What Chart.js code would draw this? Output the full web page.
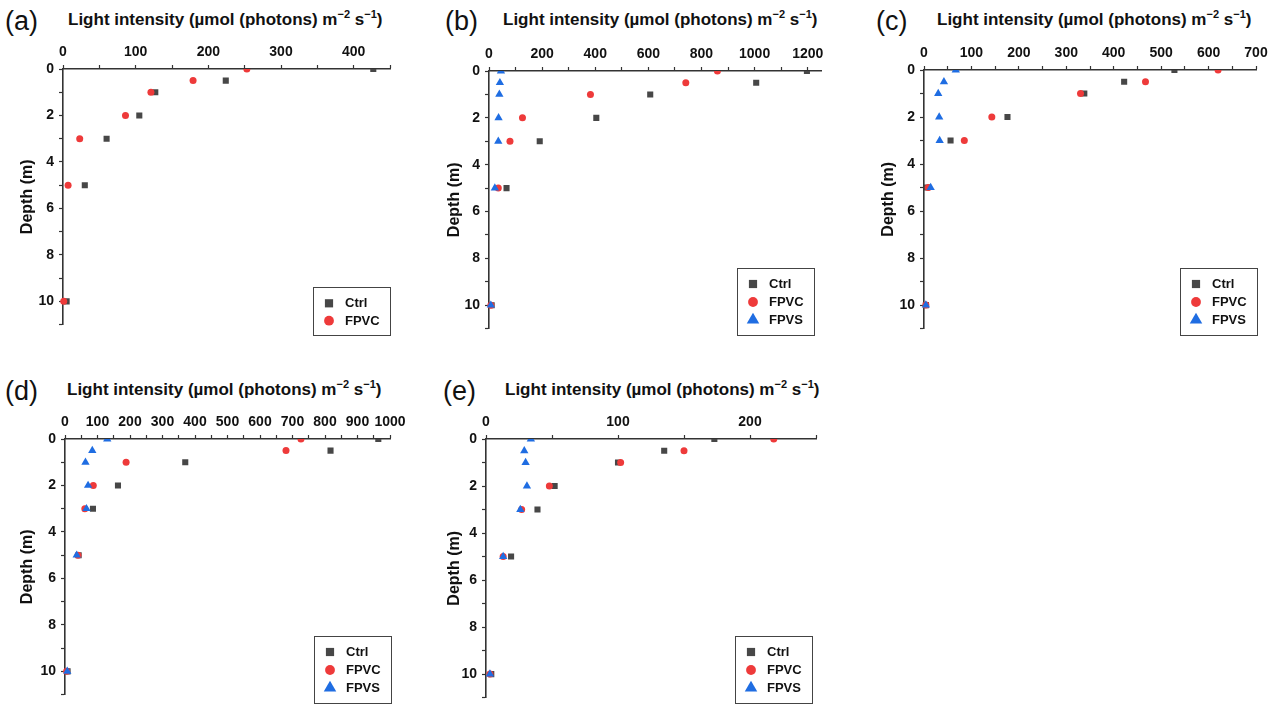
<!DOCTYPE html>
<html>
<head>
<meta charset="utf-8">
<script src="https://cdn.jsdelivr.net/npm/chart.js@4.4.1/dist/chart.umd.min.js"></script>
<style>
  body { margin: 0; background: #fff; width: 1278px; height: 705px; overflow: hidden; position: relative;
         font-family: "Liberation Sans", Arial, sans-serif; }
  canvas { position: absolute; }
  .tag { position: absolute; font-size: 27px; line-height: 30px; color: #111; }
  .ttl { position: absolute; font-size: 17px; font-weight: bold; line-height: 20px; color: #111; white-space: nowrap; }
  .ttl sup { font-size: 11px; vertical-align: 7px; line-height: 0; }
</style>
</head>
<body>
<div class="tag" style="left:5px;top:6px">(a)</div>
<div class="tag" style="left:445px;top:6px">(b)</div>
<div class="tag" style="left:876px;top:6px">(c)</div>
<div class="tag" style="left:5px;top:376px">(d)</div>
<div class="tag" style="left:443px;top:376px">(e)</div>

<div class="ttl" style="left:68px;top:10px">Light intensity (µmol (photons) m<sup>−2</sup> s<sup>−1</sup>)</div>
<div class="ttl" style="left:503px;top:10px">Light intensity (µmol (photons) m<sup>−2</sup> s<sup>−1</sup>)</div>
<div class="ttl" style="left:937px;top:10px">Light intensity (µmol (photons) m<sup>−2</sup> s<sup>−1</sup>)</div>
<div class="ttl" style="left:67px;top:380px">Light intensity (µmol (photons) m<sup>−2</sup> s<sup>−1</sup>)</div>
<div class="ttl" style="left:505px;top:380px">Light intensity (µmol (photons) m<sup>−2</sup> s<sup>−1</sup>)</div>

<canvas id="chartA"></canvas>
<canvas id="chartB"></canvas>
<canvas id="chartC"></canvas>
<canvas id="chartD"></canvas>
<canvas id="chartE"></canvas>

<script>
// Sampling depths (m), same for every panel
var depths = [0, 0.5, 1, 2, 3, 5, 10];

// Light intensity values
var ctrlA = [427, 224, 127, 105, 60, 30, 5];
var fpvcA = [253, 179, 121, 86, 23, 7, 1];

var ctrlB = [1197, 1006, 607, 404, 191, 66, 10];
var fpvcB = [860, 741, 382, 126, 79, 35, 7];
var fpvsB = [45, 41, 39, 36, 35, 22, 7];

var ctrlC = [528, 422, 338, 176, 56, 6, 4];
var fpvcC = [620, 467, 330, 143, 85, 9, 4];
var fpvsC = [67, 42, 30, 32, 33, 14, 4];

var ctrlD = [964, 817, 370, 163, 86, 42, 8];
var fpvcD = [726, 680, 188, 87, 61, 40, 5];
var fpvsD = [130, 84, 63, 71, 66, 36, 7];

var ctrlE = [173, 135, 100, 52, 39, 19, 4];
var fpvcE = [218, 150, 102, 48, 27, 13, 3];
var fpvsE = [34, 29, 30, 31, 26, 13, 3];

// Tick labels
var depthLabels = [0, 2, 4, 6, 8, 10];
var xLabelsA = [0, 100, 200, 300, 400];
var xLabelsB = [0, 200, 400, 600, 800, 1000, 1200];
var xLabelsC = [0, 100, 200, 300, 400, 500, 600, 700];
var xLabelsD = [0, 100, 200, 300, 400, 500, 600, 700, 800, 900, 1000];
var xLabelsE = [0, 100, 200];

var seriesNames = ['Ctrl', 'FPVC', 'FPVS'];
var seriesColors = ['#474747', '#ee3a3a', '#1f6de2'];
var seriesShapes = ['rect', 'circle', 'triangle'];
var seriesRadius = [4.3, 3.5, 4.8];
var legendRadius = [5.8, 4.9, 7.2];

var FONT = '"Liberation Sans", Arial, sans-serif';

// legend drawn inside the plot, boxed, bottom right
var boxLegend = {
    id: 'boxLegend',
    afterDatasetsDraw: function(chart) {
        var o = chart.options.plugins.boxLegend;
        var ctx = chart.ctx;
        var sets = chart.data.datasets;
        var w = 77, h = sets.length === 2 ? 48 : 67;
        var x0 = o.left, y0 = o.top;
        var rows = sets.length === 2 ? [16.3, 33.7] : [16, 34, 52];
        ctx.save();
        ctx.fillStyle = '#fff';
        ctx.fillRect(x0, y0, w, h);
        ctx.strokeStyle = '#444';
        ctx.lineWidth = 1;
        ctx.strokeRect(x0 + 0.5, y0 + 0.5, w, h);
        sets.forEach(function(ds, i) {
            ctx.fillStyle = ds.backgroundColor;
            ctx.strokeStyle = ds.backgroundColor;
            Chart.helpers.drawPoint(ctx, {pointStyle: ds.pointStyle, rotation: 0, radius: legendRadius[i], borderWidth: 0}, x0 + 16, y0 + rows[i]);
            ctx.fillStyle = '#111';
            ctx.font = 'bold 13px ' + FONT;
            ctx.textBaseline = 'middle';
            ctx.textAlign = 'left';
            ctx.fillText(ds.label, x0 + 32, y0 + rows[i] + 0.5);
        });
        ctx.restore();
    }
};

// panel: chart area (page px), x range, legend box position, y title x
function makePanel(id, area, xMax, step, xLabels, series, legendPos, titleX) {
    var canvas = document.getElementById(id);
    var left = area.l - 60, top = area.t - 30;
    var width = area.r - area.l + 80, height = area.b - area.t + 36;
    canvas.width = width;
    canvas.height = height;
    canvas.style.left = left + 'px';
    canvas.style.top = top + 'px';
    canvas.style.width = width + 'px';
    canvas.style.height = height + 'px';

    var datasets = series.map(function(vals, i) {
        return {
            label: seriesNames[i],
            data: vals.map(function(v, j) { return {x: v, y: depths[j]}; }),
            pointStyle: seriesShapes[i],
            pointRadius: seriesRadius[i],
            pointBorderWidth: 0,
            backgroundColor: seriesColors[i],
            borderColor: seriesColors[i],
            showLine: false,
            order: 3 - i,
            clip: {left: 8, top: 0, right: 8, bottom: 8}
        };
    });

    new Chart(canvas, {
        type: 'scatter',
        data: {datasets: datasets},
        options: {
            responsive: false,
            animation: false,
            devicePixelRatio: 1,
            layout: {padding: {left: 0, top: 0, right: 20, bottom: 6}},
            plugins: {
                legend: {display: false},
                tooltip: {enabled: false},
                boxLegend: {left: legendPos.x - left, top: legendPos.y - top}
            },
            scales: {
                x: {
                    type: 'linear',
                    position: 'top',
                    min: 0,
                    max: xMax,
                    afterFit: function(s) { s.height = 30; },
                    ticks: {
                        stepSize: step,
                        includeBounds: false,
                        autoSkip: false,
                        maxRotation: 0,
                        padding: 4,
                        color: '#111',
                        font: {family: FONT, size: 14, weight: 'bold'},
                        callback: function(v) { return xLabels.indexOf(v) >= 0 ? String(v) : ''; }
                    },
                    grid: {drawOnChartArea: false, drawTicks: true, tickLength: 4, tickColor: '#333', tickWidth: 1.2},
                    border: {color: '#333', width: 1.6}
                },
                y: {
                    type: 'linear',
                    reverse: true,
                    min: 0,
                    max: 11,
                    afterFit: function(s) { s.width = 60; },
                    title: {
                        display: true,
                        text: 'Depth (m)',
                        color: '#111',
                        font: {family: FONT, size: 16, weight: 'bold'},
                        padding: {top: titleX - left - 9.6, bottom: 0}
                    },
                    ticks: {
                        stepSize: 1,
                        autoSkip: false,
                        padding: 5,
                        color: '#111',
                        font: {family: FONT, size: 14, weight: 'bold'},
                        callback: function(v) { return depthLabels.indexOf(v) >= 0 ? String(v) : ''; }
                    },
                    grid: {drawOnChartArea: false, drawTicks: true, tickLength: 4, tickColor: '#333', tickWidth: 1.2},
                    border: {color: '#333', width: 1.6}
                }
            }
        },
        plugins: [boxLegend]
    });
}

window.onload = function() {
    makePanel('chartA', {l: 63, t: 69, r: 390, b: 332}, 450, 50, xLabelsA, [ctrlA, fpvcA], {x: 313, y: 287}, 27.5);
    makePanel('chartB', {l: 489, t: 71, r: 821, b: 336}, 1250, 100, xLabelsB, [ctrlB, fpvcB, fpvsB], {x: 737, y: 268}, 454.5);
    makePanel('chartC', {l: 924, t: 70, r: 1256, b: 336}, 700, 50, xLabelsC, [ctrlC, fpvcC, fpvsC], {x: 1180, y: 268}, 888.5);
    makePanel('chartD', {l: 65, t: 439, r: 390, b: 702}, 1000, 50, xLabelsD, [ctrlD, fpvcD, fpvsD], {x: 314, y: 636}, 27.5);
    makePanel('chartE', {l: 486, t: 439, r: 816, b: 705}, 250, 50, xLabelsE, [ctrlE, fpvcE, fpvsE], {x: 735, y: 636}, 455);
};
</script>
</body>
</html>
